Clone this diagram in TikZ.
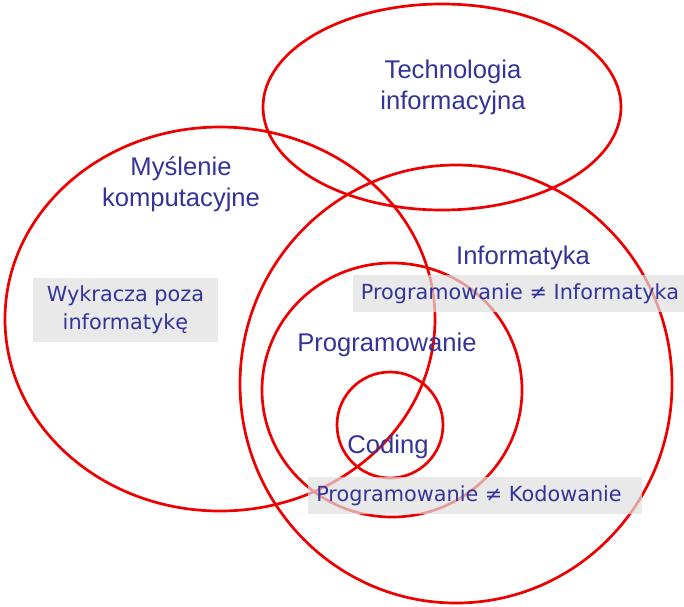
\documentclass[tikz,border=0pt]{standalone}
\usepackage{fontspec}
\setmainfont{Liberation Sans}
\newfontfamily\boxfont{DejaVu Sans}
\usepackage{xcolor}
\usetikzlibrary{positioning}

\definecolor{ringred}{RGB}{238,0,0}
\definecolor{labelblue}{RGB}{51,51,153}
\definecolor{boxgray}{RGB}{224,224,224}

\begin{document}
\begin{tikzpicture}[x=1pt, y=-1pt,
    ring/.style={draw=ringred, line width=2.7pt},
    title/.style={text=labelblue, font=\fontsize{25.6}{31}\selectfont, align=center, inner sep=0pt},
    graybox/.style={fill=boxgray, fill opacity=0.7, inner sep=0pt},
    boxtext/.style={text=labelblue, font=\boxfont\fontsize{20.8}{28}\selectfont, align=center, inner sep=0pt}]
                \useasboundingbox (0, 0) rectangle (684, 606);

                % circles of the diagram
                \draw[ring] (220, 319) ellipse (215 and 192);
                \draw[ring] (442, 107) ellipse (179 and 103);
                \draw[ring] (456, 384) ellipse (216 and 219);
                \draw[ring] (392, 390) ellipse (130 and 127);
                \draw[ring] (390, 425) circle (53);

                % gray boxes behind the remarks
                \node[graybox, minimum width=185pt, minimum height=64pt] (poza box) at (125.5, 310) {};
                \node[graybox, minimum width=331pt, minimum height=37pt] (inf box) at (518.5, 293.5) {};
                \node[graybox, minimum width=334pt, minimum height=37pt] (kod box) at (475, 495.5) {};

                \node[title] (tech) at (453, 87) {Technologia\\informacyjna};
                \node[title] (myslenie) at (181, 184) {Myślenie\\komputacyjne};
                \node[title] (informatyka) at (523, 258) {Informatyka};
                \node[title] (programowanie) at (387, 345) {Programowanie};
                \node[title] (coding) at (388, 447) {Coding};

                \node[boxtext] (poza) at (poza box) {Wykracza poza\\informatykę};
                \node[boxtext] (inf) at (520, 294) {Programowanie ≠ Informatyka};
                \node[boxtext] (kod) at (469, 496) {Programowanie ≠ Kodowanie};
            \end{tikzpicture}
\end{document}
